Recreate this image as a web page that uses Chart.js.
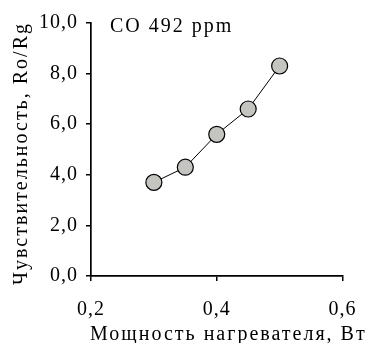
<!DOCTYPE html>
<html><head><meta charset="utf-8">
<script src="https://cdn.jsdelivr.net/npm/chart.js@4"></script>
<style>html,body{margin:0;padding:0;background:#fff}#wrap{width:372px;height:343px}</style>
</head><body><div id="wrap"><canvas id="c" width="372" height="343"></canvas></div>
<script>
const xValues = [0.30, 0.35, 0.40, 0.45, 0.50];
const yValues = [3.7, 4.3, 5.6, 6.6, 8.3];
const xTicks = [0.2, 0.4, 0.6];
const yTicks = [0, 2, 4, 6, 8, 10];
const chartTitle = 'CO 492 ppm';
const xTitle = 'Мощность нагревателя, Вт';
const yTitle = 'Чувствительность, Ro/Rg';

const serif = "'Liberation Serif','Times New Roman',serif";
const fmt = v => v.toFixed(1).replace('.', ',');

const textPlugin = {
  id: 'textPlugin',
  beforeDraw(chart) {
    chart.ctx.letterSpacing = '1px';
  },
  afterDraw(chart) {
    const {ctx, chartArea} = chart;
    ctx.save();
    ctx.letterSpacing = '2px';
    ctx.font = "20px " + serif;
    ctx.fillStyle = '#000';
    ctx.textBaseline = 'alphabetic';
    ctx.textAlign = 'left';
    // inner chart title
    ctx.fillText(chartTitle, chartArea.left + 19, chartArea.top + 9);
    // x axis title
    ctx.fillText(xTitle, chartArea.left - 1, chart.height - 3);
    // y axis title (rotated)
    ctx.translate(27, chartArea.bottom + 9);
    ctx.rotate(-Math.PI / 2);
    ctx.fillText(yTitle, 0, 0);
    ctx.restore();
  }
};

new Chart(document.getElementById('c'), {
  type: 'scatter',
  data: {
    datasets: [{
      data: xValues.map((x, i) => ({x, y: yValues[i]})),
      showLine: true,
      borderColor: '#000',
      borderWidth: 1,
      pointRadius: 8,
      pointBackgroundColor: '#c4c4c0',
      pointBorderColor: '#000',
      pointBorderWidth: 1.2
    }]
  },
  options: {
    responsive: false,
    animation: false,
    devicePixelRatio: 1,
    layout: {padding: {left: 0, top: 23, right: 24, bottom: 0}},
    plugins: {legend: {display: false}, tooltip: {enabled: false}},
    scales: {
      x: {
        type: 'linear', min: 0.2, max: 0.6,
        afterBuildTicks: s => { s.ticks = xTicks.map(v => ({value: v})); },
        afterFit: s => { s.height = 67; },
        ticks: {callback: v => String(v).replace('.', ','), color: '#000', font: {family: serif, size: 20}, padding: 17, maxRotation: 0},
        grid: {drawOnChartArea: false, drawTicks: true, tickLength: 5, color: '#000', lineWidth: 1.5},
        border: {color: '#000', width: 1.7},
        title: {display: false}
      },
      y: {
        type: 'linear', min: 0, max: 10,
        afterBuildTicks: s => { s.ticks = yTicks.map(v => ({value: v})); },
        afterFit: s => { s.width = 91; },
        ticks: {callback: v => fmt(v), color: '#000', font: {family: serif, size: 20}, padding: 8},
        grid: {drawOnChartArea: false, drawTicks: true, tickLength: 5, color: '#000', lineWidth: 1.5},
        border: {color: '#000', width: 1.7},
        title: {display: false}
      }
    }
  },
  plugins: [textPlugin]
});
</script></body></html>
